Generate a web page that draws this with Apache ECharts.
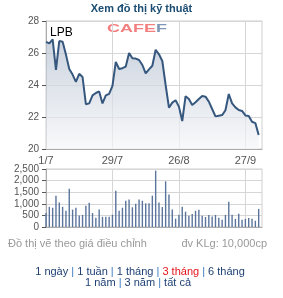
<!DOCTYPE html>
<html><head><meta charset="utf-8">
<script src="https://cdn.jsdelivr.net/npm/echarts@6/dist/echarts.min.js"></script>
<style>html,body{margin:0;padding:0;background:#fff}#c{width:283px;height:298px}</style>
</head><body><div id="c"></div>
<script>
const dates = ['1/7','2/7','3/7','4/7','5/7','8/7','9/7','10/7','11/7','12/7',
  '15/7','16/7','17/7','18/7','19/7','22/7','23/7','24/7','25/7','26/7',
  '29/7','30/7','31/7','1/8','2/8','5/8','6/8','7/8','8/8','9/8',
  '12/8','13/8','14/8','15/8','16/8','19/8','20/8','21/8','22/8','23/8',
  '26/8','27/8','28/8','29/8','30/8','3/9','4/9','5/9','9/9','10/9',
  '11/9','12/9','16/9','17/9','18/9','19/9','20/9','23/9','24/9','26/9',
  '27/9','30/9','1/10','2/10','3/10',''];
const prices = [26.7,26.6,26.85,24.95,26.75,26.7,25.9,25.0,24.65,24.2,
  24.7,24.5,22.8,22.85,23.35,23.5,23.6,22.85,23.35,23.45,
  23.95,25.45,25.0,25.05,25.15,26.0,25.67,25.65,25.56,25.25,
  24.73,24.98,25.2,26.2,25.92,25.5,24.0,22.58,22.9,23.05,
  22.65,21.75,23.3,23.12,22.75,22.92,23.12,23.31,23.27,22.96,
  22.5,22.04,22.08,22.12,22.42,23.44,22.85,22.6,22.44,22.38,
  22.1,22.06,21.7,21.62,20.88];
const volumes = [600,870,830,1350,1060,870,700,1650,750,830,
  500,520,920,1050,600,400,750,440,440,440,
  530,1560,700,830,1130,1190,850,1000,1190,1130,
  1020,1020,1350,2430,1060,860,1970,1400,750,360,
  530,870,660,490,560,700,740,490,430,520,
  450,520,400,310,520,1090,530,350,570,310,
  350,390,360,270,780];
const xTickLabels = ['1/7','29/7','26/8','27/9'];
const priceTicks = [20,22,24,26,28];
const volumeTicks = [0,500,1000,1500,2000,2500];

const FONT = 'Arial, "Liberation Sans", sans-serif';
const showTick = (i, v) => xTickLabels.includes(v);
const chart = echarts.init(document.getElementById('c'), null, {renderer:'canvas'});

const gridLine = {show:true, interval: showTick, lineStyle:{color:'#d6d6d6', width:1}};
chart.setOption({
  animation:false,
  backgroundColor:'#fff',
  grid:[
    {left:46, top:21, width:216, height:128, show:true, borderColor:'#cfcfcf', borderWidth:1},
    {left:46, top:169, width:216, height:58, show:true, borderColor:'#cfcfcf', borderWidth:1}
  ],
  xAxis:[
    {type:'category', gridIndex:0, data:dates, boundaryGap:false,
     axisLine:{lineStyle:{color:'#aaa'}}, axisTick:{show:false},
     axisLabel:{interval: showTick, color:'#555', fontSize:11, fontFamily:FONT, margin:6},
     splitLine: gridLine},
    {type:'category', gridIndex:1, data:dates, boundaryGap:false,
     axisLine:{lineStyle:{color:'#aaa'}}, axisTick:{show:false},
     axisLabel:{show:false}, splitLine: gridLine}
  ],
  yAxis:[
    {type:'value', gridIndex:0, min:priceTicks[0], max:priceTicks[priceTicks.length-1], interval:2,
     axisLine:{show:true, lineStyle:{color:'#aaa'}},
     axisTick:{show:true, length:4, lineStyle:{color:'#555'}},
     axisLabel:{color:'#555', fontSize:10, fontFamily:FONT, margin:7},
     splitLine:{lineStyle:{color:'#d6d6d6'}}},
    {type:'value', gridIndex:1, min:volumeTicks[0], max:volumeTicks[volumeTicks.length-1], interval:500,
     axisLine:{show:true, lineStyle:{color:'#aaa'}},
     axisTick:{show:true, length:4, lineStyle:{color:'#555'}},
     axisLabel:{color:'#555', fontSize:10, fontFamily:FONT, margin:7},
     splitLine:{lineStyle:{color:'#d6d6d6'}}}
  ],
  series:[
    {type:'line', xAxisIndex:0, yAxisIndex:0, data:prices, showSymbol:false, symbol:'none',
     lineStyle:{color:'#36577e', width:2},
     areaStyle:{origin:'start', color:new echarts.graphic.LinearGradient(0,0,0,1,[
       {offset:0, color:'#b6c1d1'},{offset:1, color:'#f6f7f9'}])}},
    {type:'bar', xAxisIndex:1, yAxisIndex:1, data:volumes, barWidth:1.4,
     itemStyle:{color:'#5a749c'}}
  ],
  graphic:[
    {type:'text', left:'center', top:3, style:{text:'Xem đồ thị kỹ thuật', fill:'#1b4d73', font:'bold 11px '+FONT}},
    {type:'text', x:107, y:24, scaleX:1.8, style:{rich:{r:{fill:'#f27f7f', font:'bold 10px '+FONT}, b:{fill:'#7e97b6', font:'bold 10px '+FONT}}, text:'{r|CAFE}{b|F}'}},
    {type:'text', x:50, y:27, style:{text:'LPB', font:'12px '+FONT, fill:'#000'}},
    {type:'text', x:8, y:238, style:{text:'Đồ thị vẽ theo giá điều chỉnh', font:'11px '+FONT, fill:'#999'}},
    {type:'text', x:267, y:238, style:{text:'đv KLg: 10,000cp', font:'11px '+FONT, fill:'#999', align:'right'}},
    {type:'text', x:140, y:266, style:{align:'center', font:'11px '+FONT,
      rich:{n:{fill:'#1d3f72', font:'11px '+FONT}, s:{fill:'#3d7cc0', font:'11px '+FONT}, r:{fill:'#e3141b', font:'11px '+FONT}},
      text:'{n|1 ngày }{s||}{n| 1 tuần }{s||}{n| 1 tháng }{s||}{r| 3 tháng }{s||}{n| 6 tháng}'}},
    {type:'text', x:138, y:277, style:{align:'center', font:'11px '+FONT,
      rich:{n:{fill:'#1d3f72', font:'11px '+FONT}, s:{fill:'#3d7cc0', font:'11px '+FONT}},
      text:'{n|1 năm }{s||}{n| 3 năm }{s||}{n| tất cả}'}}
  ]
});
</script></body></html>
